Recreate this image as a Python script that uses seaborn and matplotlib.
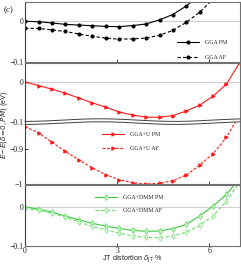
import numpy as np
import pandas as pd
import matplotlib
matplotlib.use('Agg')
import matplotlib.pyplot as plt
import seaborn as sns

# JT distortion grid (%)
delta = [0, 0.44, 0.88, 1.31, 1.75, 2.19, 2.63, 3.06, 3.5, 3.94, 4.38, 4.81, 5.25, 5.69, 6.13, 6.56]

# (c) top: plain GGA
gga_pm = [0, -0.001, -0.004, -0.0075, -0.0092, -0.0108, -0.0125, -0.0132, -0.0105, -0.0065, 0.0035, 0.0167, 0.0375, 0.065, None, None]
gga_af = [-0.017, -0.0175, -0.021, -0.025, -0.031, -0.037, -0.041, -0.044, -0.043, -0.0415, -0.034, -0.0225, -0.0025, 0.0225, 0.055, None]

# middle: GGA+U
ggau_pm = [0, -0.009, -0.018, -0.028, -0.040, -0.052, -0.063, -0.075, -0.0825, -0.088, -0.088, -0.084, -0.0725, -0.0575, -0.035, -0.005, 0.05]
ggau_af = [-0.836, -0.854, -0.881, -0.907, -0.931, -0.954, -0.973, -0.988, -0.996, -1.0, -0.998, -0.991, -0.974, -0.946, -0.913, -0.867, -0.80]

# bottom: GGA+DMM
dmm_pm = [0, -0.006, -0.013, -0.023, -0.033, -0.042, -0.049, -0.055, -0.060, -0.0625, -0.0617, -0.0556, -0.0445, -0.023, 0.0025, 0.032, 0.075]
dmm_af = [-0.004, -0.008, -0.016, -0.027, -0.038, -0.050, -0.059, -0.067, -0.074, -0.078, -0.079, -0.074, -0.065, -0.047, -0.023, 0.015, 0.065]

delta_ext = delta + [7.0]

sns.set_style('ticks')
plt.rcParams['font.family'] = ['Liberation Serif', 'DejaVu Serif']
plt.rcParams['mathtext.fontset'] = 'dejavusans'

W, H = 241, 264
fig = plt.figure(figsize=(W / 100, H / 100), dpi=100)

def box(x0, y0, x1, y1):
    # pixel box -> figure axes
    return fig.add_axes([x0 / W, 1 - y1 / H, (x1 - x0) / W, (y1 - y0) / H])

L, R = 25, 240
ax_t = box(L, 2, R, 62)
ax_mu = box(L, 63, R, 122)
ax_ml = box(L, 122, R, 184)
ax_b = box(L, 185, R, 246)
axes = (ax_t, ax_mu, ax_ml, ax_b)

lw = 0.8
# top panel
df = pd.DataFrame({'x': delta, 'pm': gga_pm, 'af': gga_af})
sns.lineplot(data=df, x='x', y='pm', ax=ax_t, color='black', lw=lw, marker='o', ms=2.2,
             mec='black', label='GGA PM', sort=False, estimator=None)
sns.lineplot(data=df, x='x', y='af', ax=ax_t, color='black', lw=lw, ls=(0, (3, 2)), marker='o', ms=2.2,
             mec='black', label='GGA AF', sort=False, estimator=None)

# middle panel (broken axis)
red = '#ff1a1a'
sns.lineplot(x=delta_ext, y=ggau_pm, ax=ax_mu, color=red, lw=lw, marker='>', ms=2.4,
             mec=red, label='GGA+U PM', sort=False, estimator=None)
sns.lineplot(x=delta_ext, y=ggau_af, ax=ax_ml, color=red, lw=lw, ls=(0, (2.5, 1.5)), marker='>', ms=2.4,
             mec=red, label='GGA+U AF', sort=False, estimator=None)

# bottom panel
g1, g2 = '#3ec83e', '#66dd66'
sns.lineplot(x=delta_ext, y=dmm_pm, ax=ax_b, color=g1, lw=lw, marker='d', ms=3,
             mfc='#d8f5d8', mec=g2, mew=0.6, label='GGA+DMM PM', sort=False, estimator=None)
sns.lineplot(x=delta_ext, y=dmm_af, ax=ax_b, color=g2, lw=lw, ls=(0, (3, 2)), marker='d', ms=3,
             mfc='#e6f9e6', mec='#8ee88e', mew=0.6, label='GGA+DMM AF', sort=False, estimator=None)

spine_c = '#707070'
for ax in axes:
    ax.set_xlim(0, 7)
    for s in ax.spines.values():
        s.set_color(spine_c)
        s.set_linewidth(0.8)
    ax.spines['left'].set_color('#404040')
    ax.tick_params(direction='in', length=2, width=0.6, labelsize=5.6, pad=1.2, colors='#202020')
    ax.set_xticks([0, 3, 6])
    ax.tick_params(axis='x', labelbottom=False)
    ax.set_xlabel('')
    ax.set_ylabel('')

ax_mu.spines['bottom'].set_visible(False)
ax_ml.spines['top'].set_visible(False)
ax_mu.tick_params(axis='x', bottom=False)
ax_ml.tick_params(axis='x', top=False)

# zero lines
for ax in (ax_t, ax_mu, ax_b):
    ax.axhline(0, color='#d0d0d0', lw=0.8, zorder=0)

ax_t.set_ylim(-0.1, 0.0475)
ax_t.set_yticks([0, -0.1])
ax_t.set_yticklabels(['0', '\u22120.1'])
ax_mu.set_ylim(-0.1, 0.0475)
ax_mu.set_yticks([0, -0.1])
ax_mu.set_yticklabels(['0', '\u22120.1'])
ax_ml.set_ylim(-1.0, -0.823)
ax_ml.set_yticks([-0.9, -1.0])
ax_ml.set_yticklabels(['\u22120.9', '\u22121'])
ax_b.set_ylim(-0.1, 0.056)
ax_b.set_yticks([0, -0.1])
ax_b.set_yticklabels(['0', '\u22120.1'])
ax_b.tick_params(axis='x', labelbottom=True, pad=0.8)
ax_b.set_xticklabels(['0', '3', '6'])

leg_kw = dict(frameon=False, fontsize=4.2, borderaxespad=0, borderpad=0,
              handlelength=3.8, handletextpad=1.0, loc='upper left')
ax_t.legend(bbox_to_anchor=(0.705, 0.36), labelspacing=1.7, **leg_kw)
h1, l1 = ax_mu.get_legend_handles_labels()
h2, l2 = ax_ml.get_legend_handles_labels()
ax_mu.legend().remove()
ax_ml.legend(h1 + h2, l1 + l2, bbox_to_anchor=(0.357, 0.84), labelspacing=1.55, **leg_kw)
ax_b.legend(bbox_to_anchor=(0.326, 0.84), labelspacing=1.45, **leg_kw)

# wavy break between the two halves of the middle panel
xp = np.linspace(L, R, 200)
yc = 121.6 - 1.3 * np.cos(2 * np.pi * (xp - 100) / 150)
for off in (-1.5, 1.5):
    fig.add_artist(plt.Line2D(xp / W, 1 - (yc + off) / H, color='#404040', lw=0.7))

fig.text(4 / W, 1 - 10 / H, '(c)', fontsize=6.5, va='center', ha='left')
fig.text(132 / W, 1 - 259.5 / H, r'JT distortion $\delta_{\mathrm{JT}}$ %', fontsize=5.2,
         family=['Liberation Sans', 'DejaVu Sans'], ha='center', va='center')
fig.text(5 / W, 1 - 125 / H, r'$E\!-\!E(\delta\!=\!0,PM)$ (eV)', fontsize=5.2, rotation=90,
         family=['Liberation Sans', 'DejaVu Sans'], ha='center', va='center')

fig.savefig('out.png', dpi=100)
